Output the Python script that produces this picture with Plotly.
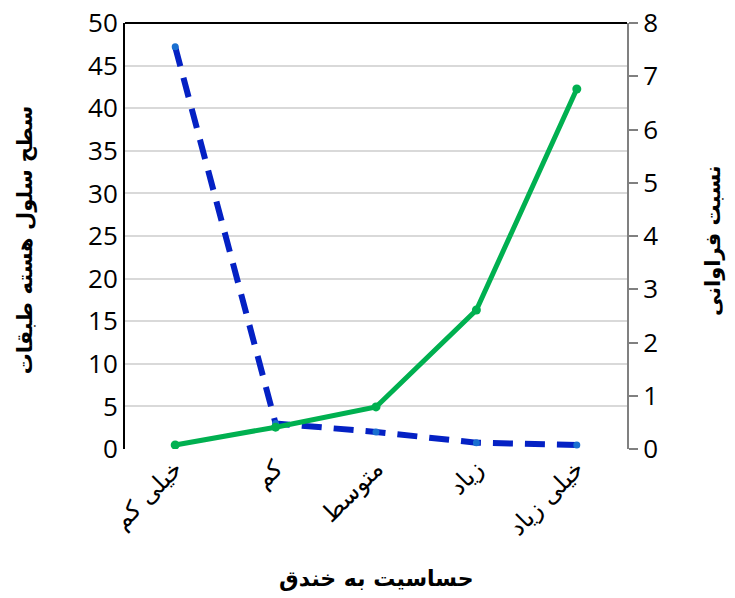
import plotly.graph_objects as go

categories = ["خیلی کم", "کم", "متوسط", "زیاد", "خیلی زیاد"]
area_pct = [47.2, 3.0, 2.0, 0.74, 0.47]
freq_ratio = [0.075, 0.41, 0.79, 2.61, 6.76]

left_title = "سطح سلول هسته طبقات"
right_title = "نسبت فراوانی"
x_title = "حساسیت به خندق"

FONT = "DejaVu Sans"
NUMFONT = "Open Sans"

fig = go.Figure()
fig.add_trace(go.Scatter(
    x=categories, y=area_pct, mode="lines+markers", yaxis="y",
    line=dict(color="#0421c4", width=6, dash="20px,12px"),
    marker=dict(color="#1a6fd0", size=7), showlegend=False))
fig.add_trace(go.Scatter(
    x=categories, y=freq_ratio, mode="lines+markers", yaxis="y2",
    line=dict(color="#00b050", width=5),
    marker=dict(color="#00b050", size=9), showlegend=False))

fig.update_layout(
    width=735, height=598,
    margin=dict(l=125, r=108, t=23, b=149),
    plot_bgcolor="white", paper_bgcolor="white",
    font=dict(family=FONT, color="black"),
    xaxis=dict(type="category", range=[-0.5, len(categories) - 0.5],
               tickangle=-45, showgrid=False, automargin=False,
               tickfont=dict(size=24, family=FONT), ticks="",
               ticklabeloverflow="allow",
               showline=False, zeroline=False),
    yaxis=dict(range=[0, 50], dtick=5, showgrid=True, gridcolor="#d9d9d9",
               gridwidth=1.5, showline=True, linecolor="black", linewidth=2,
               automargin=False, ticks="", tickfont=dict(size=26, family=NUMFONT),
               ticklabeloverflow="allow", zeroline=False),
    yaxis2=dict(range=[0, 8], dtick=1, overlaying="y", side="right",
                showgrid=False, showline=True, linecolor="#808080", linewidth=2,
                automargin=False, ticks="outside", ticklen=9, tickcolor="#808080",
                tickwidth=2, tickfont=dict(size=26, family=NUMFONT),
                ticklabeloverflow="allow", zeroline=False),
    shapes=[dict(type="line", xref="paper", yref="paper", x0=0, x1=1, y0=1, y1=1,
                 line=dict(color="black", width=2))],
    annotations=[
        dict(text=f"<b>{left_title}</b>", xref="paper", yref="paper",
             x=-0.199, y=0.49, showarrow=False, textangle=-90,
             font=dict(size=21, family=FONT), xanchor="center", yanchor="middle"),
        dict(text=f"<b>{right_title}</b>", xref="paper", yref="paper",
             x=1.171, y=0.49, showarrow=False, textangle=-90,
             font=dict(size=21, family=FONT), xanchor="center", yanchor="middle"),
        dict(text=f"<b>{x_title}</b>", xref="paper", yref="paper",
             x=0.5, y=-0.303, showarrow=False,
             font=dict(size=22, family=FONT), xanchor="center", yanchor="middle"),
    ],
)

fig.write_html("out.html", config={"displayModeBar": False},
               post_script="document.body.style.margin='0';document.body.style.overflow='hidden';")
